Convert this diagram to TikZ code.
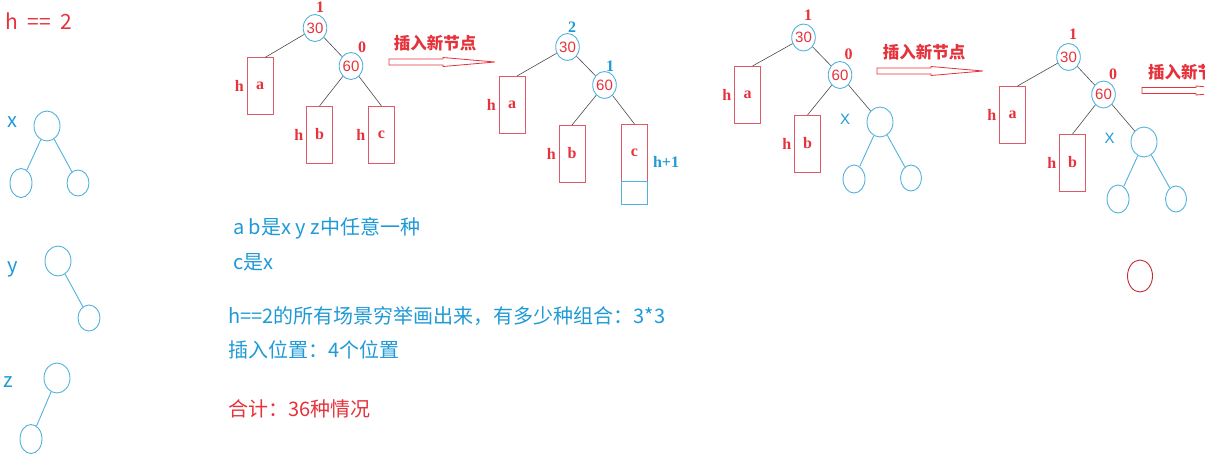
\documentclass[tikz,border=0pt]{standalone}
\usepackage{fontspec}
\setmainfont{Liberation Serif}
\setsansfont{Liberation Sans}
\newfontfamily\cjk{Noto Sans CJK SC}
\usetikzlibrary{shapes.geometric, positioning}
\definecolor{avlRed}{HTML}{E5323B}
\definecolor{avlBlue}{HTML}{1E9AD6}
\definecolor{avlRing}{HTML}{52B2DC}
\definecolor{avlBox}{HTML}{DE5A66}
\definecolor{avlEdge}{HTML}{4A4A4A}

\begin{document}
\begin{tikzpicture}[x=1pt, y=-1pt,
  keynode/.style={ellipse, draw=avlRing, line width=0.9pt, inner sep=0pt,
    minimum width=22pt, minimum height=27pt, text=avlRed,
    font=\sffamily\fontsize{15}{15}\selectfont},
  subtree/.style={draw=avlBox, line width=0.9pt, minimum width=26pt,
    minimum height=57pt, inner sep=0pt, outer sep=0pt, text=avlRed,
    font=\bfseries\fontsize{16}{16}\selectfont},
  ring/.style={ellipse, draw=avlRing, line width=0.9pt, inner sep=0pt,
    minimum width=26pt, minimum height=30pt},
  leaf/.style={ring, minimum width=22pt, minimum height=28pt},
  hlbl/.style={text=avlRed, inner sep=0pt, font=\bfseries\fontsize{16}{16}\selectfont},
  bal/.style={hlbl},
  xlbl/.style={text=avlBlue, inner sep=0pt, font=\sffamily\fontsize{15}{15}\selectfont},
  link/.style={draw=avlEdge, line width=0.6pt},
  bluelink/.style={draw=avlRing, line width=0.9pt},
  note/.style={anchor=west, inner sep=0pt, text=avlBlue, font=\cjk\fontsize{20}{20}\selectfont},
  arrowtxt/.style={text=avlRed, inner sep=0pt, font=\cjk\bfseries\fontsize{16.5}{16.5}\selectfont},
  insertarrow/.pic={\draw[avlRed, line width=0.8pt] (0,-3) -- (54,-3) -- (54,-4.5) -- (106,0)
    -- (54,4.5) -- (54,3) -- (0,3) -- cycle;}]
  \useasboundingbox (0,0) rectangle (1230,459);

  \node[note, text=avlRed, font=\cjk\fontsize{21}{21}\selectfont] (title) at (5,21)
    {h\hspace{0.45em}==\hspace{0.45em}2};
  \node[note, anchor=center] (lx) at (12.5,122) {x};
  \node[ring] (xr) at (47,126) {};
  \node[leaf, minimum height=29pt] (xa) at (21,183) {};
  \node[leaf, minimum height=26pt] (xb) at (78,183) {};
  \draw[bluelink] (xr) -- (xa) (xr) -- (xb);
  \node[note, anchor=center] (ly) at (13,269) {y};
  \node[ring] (yr) at (58,261) {};
  \node[leaf, minimum height=26pt] (yb) at (89,318) {};
  \draw[bluelink] (yr) -- (yb);
  \node[note, anchor=center] (lz) at (8,382) {z};
  \node[ring] (zr) at (57,378) {};
  \node[leaf, minimum height=29pt] (za) at (31,439) {};
  \draw[bluelink] (zr) -- (za);

  \node[keynode] (t1) at (315,28) {30};
  \node[keynode] (s1) at (351,66) {60};
  \node[bal] (k1) at (320,7) {1};
  \node[bal] (m1) at (362,47) {0};
  \node[subtree] (a1) at (260,86) {a};
  \node[subtree] (b1) at (319.5,134.5) {b};
  \node[subtree] (c1) at (381.5,134.5) {c};
  \node[hlbl, left=3pt of a1] (ha1) {h};
  \node[hlbl, left=3pt of b1] (hb1) {h};
  \node[hlbl, left=3pt of c1] (hc1) {h};
  \draw[link] (t1) -- ([xshift=5pt]a1.north) (t1) -- (s1)
    (s1) -- (b1.north) (s1) -- (c1.north);
  \node[arrowtxt] (ins1) at (435,43) {插入新节点};
  \pic at (389,62) {insertarrow};

  \node[keynode] (t2) at (567.5,47) {30};
  \node[keynode] (s2) at (604.5,85) {60};
  \node[bal, text=avlBlue] (k2) at (572,27) {2};
  \node[bal, text=avlBlue] (m2) at (610,66) {1};
  \node[subtree] (a2) at (512,104.5) {a};
  \node[subtree] (b2) at (572,153.5) {b};
  \node[subtree] (c2) at (634.5,152.5) {c};
  \node[subtree, draw=avlRing, minimum height=23pt, below=0pt of c2] (c2x) {};
  \node[hlbl, left=3pt of a2] (ha2) {h};
  \node[hlbl, left=3pt of b2] (hb2) {h};
  \node[hlbl, text=avlBlue] (hc2) at (666,162) {h+1};
  \draw[link] (t2) -- ([xshift=5pt]a2.north) (t2) -- (s2)
    (s2) -- (b2.north) (s2) -- (c2.north);

  \node[keynode] (t3) at (803.5,37.5) {30};
  \node[keynode] (s3) at (840,75) {60};
  \node[bal] (k3) at (808,15) {1};
  \node[bal] (m3) at (848.5,54) {0};
  \node[subtree] (a3) at (747.5,94.5) {a};
  \node[subtree] (b3) at (807.5,143.5) {b};
  \node[hlbl, left=3pt of a3] (ha3) {h};
  \node[hlbl, left=3pt of b3] (hb3) {h};
  \node[xlbl] (X3) at (845,119.5) {X};
  \node[ring] (x3) at (880,122) {};
  \node[leaf] (x3a) at (854,179) {};
  \node[leaf, minimum width=21pt, minimum height=26pt] (x3b) at (911,178) {};
  \draw[link] (t3) -- ([xshift=5pt]a3.north) (t3) -- (s3)
    (s3) -- (b3.north) (s3) -- (x3);
  \draw[bluelink] (x3) -- (x3a) (x3) -- (x3b);
  \node[arrowtxt] (ins2) at (924,52) {插入新节点};
  \pic at (877,71) {insertarrow};

  \node[keynode] (t4) at (1068.5,57) {30};
  \node[keynode] (s4) at (1103.5,94.5) {60};
  \node[bal] (k4) at (1073,34) {1};
  \node[bal] (m4) at (1113,74) {0};
  \node[subtree] (a4) at (1012.5,114.5) {a};
  \node[subtree] (b4) at (1072.5,162.5) {b};
  \node[hlbl, left=3pt of a4] (ha4) {h};
  \node[hlbl, left=3pt of b4] (hb4) {h};
  \node[xlbl] (X4) at (1109.5,138) {X};
  \node[ring] (x4) at (1144,142) {};
  \node[leaf] (x4a) at (1118,199) {};
  \node[leaf, minimum width=21pt, minimum height=26pt] (x4b) at (1176,199) {};
  \draw[link] (t4) -- ([xshift=5pt]a4.north) (t4) -- (s4)
    (s4) -- (b4.north) (s4) -- (x4);
  \draw[bluelink] (x4) -- (x4a) (x4) -- (x4b);
  \node[ring, draw=avlRed!85!black, minimum width=25pt, minimum height=32pt] (new4) at (1140,276) {};
  \begin{scope}
    \clip (1130,40) rectangle (1204,110);
    \node[arrowtxt, anchor=west] (ins3) at (1148,72) {插入新节点};
    \pic at (1142,90.5) {insertarrow};
  \end{scope}

  \node[note] (n1) at (233,228) {a b是x y z中任意一种};
  \node[note] (n2) at (233,262) {c是x};
  \node[note] (n3) at (228,316) {h==2的所有场景穷举画出来，有多少种组合：3*3};
  \node[note] (n4) at (228,350) {插入位置：4个位置};
  \node[note, text=avlRed] (n5) at (228,409) {合计：36种情况};
\end{tikzpicture}
\end{document}
